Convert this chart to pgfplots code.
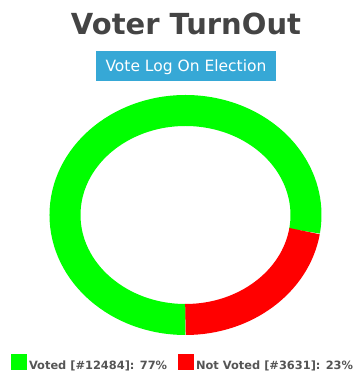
\documentclass[border=0pt]{standalone}
\usepackage{pgfplots}
\usepackage{pgfplotstable}
\pgfplotsset{compat=1.18}
\usepackage{fontspec}
\setmainfont{DejaVu Sans}
\definecolor{ringgreen}{RGB}{0,255,0}
\definecolor{ringred}{RGB}{255,0,0}
\definecolor{titlegray}{RGB}{68,68,68}
\definecolor{legendgray}{RGB}{85,85,85}
\definecolor{boxblue}{RGB}{54,168,214}

\pgfplotstableread{
label count
Voted 12484
NotVoted 3631
}\votetable

\begin{document}
\begin{tikzpicture}
\pgfplotstablegetelem{0}{count}\of\votetable \let\va\pgfplotsretval
\pgfplotstablegetelem{1}{count}\of\votetable \let\vb\pgfplotsretval
\pgfmathsetmacro\total{\va/1000+\vb/1000}
\pgfmathsetmacro\anga{360*((\va/1000)/\total)}
\pgfmathsetmacro\angb{360*((\vb/1000)/\total)}
\begin{axis}[
  at={(0,0)}, anchor=south west,
  scale only axis, width=360bp, height=372bp,
  xmin=0, xmax=360, ymin=0, ymax=372,
  hide axis, clip=false,
  legend columns=2,
  legend style={draw=none, fill=none, inner sep=0pt, outer sep=0pt,
    at={(axis description cs:0.0306,0.022)}, anchor=west,
    font=\fontsize{11.4bp}{13bp}\selectfont\bfseries\color{legendgray},
    nodes={inner sep=2bp},
    /tikz/every even column/.append style={column sep=9bp}},
  legend image code/.code={\fill[#1, draw=none] (0bp,-4bp) rectangle (16bp,12bp);},
]
\addlegendimage{fill=ringgreen, draw=none}
\addlegendentry{Voted [\#12484]: 77\%}
\addlegendimage{fill=ringred, draw=none}
\addlegendentry{Not Voted [\#3631]: 23\%}
% donut slices (angles from the table values), starting at the bottom, clockwise
\draw[ringgreen, line width=31bp] (axis cs:185.5,157) ++(0bp,-104.5bp)
  arc[start angle=270, delta angle=-\anga, x radius=120.5bp, y radius=104.5bp];
\draw[ringred, line width=31bp] (axis cs:185.5,157) ++(0bp,-104.5bp)
  arc[start angle=270, delta angle=\angb, x radius=120.5bp, y radius=104.5bp];
% title and subtitle
\node[anchor=base, text=titlegray, font=\fontsize{29bp}{32bp}\selectfont\bfseries]
  at (axis cs:186,337) {Voter TurnOut};
\fill[boxblue] (axis cs:96,291) rectangle (axis cs:276,321);
\node[anchor=base, text=white, font=\fontsize{15.5bp}{17bp}\selectfont]
  at (axis cs:186,300.5) {Vote Log On Election};
\end{axis}
\pgfresetboundingbox
\path (0,0) rectangle (360bp,372bp);
\end{tikzpicture}
\end{document}
